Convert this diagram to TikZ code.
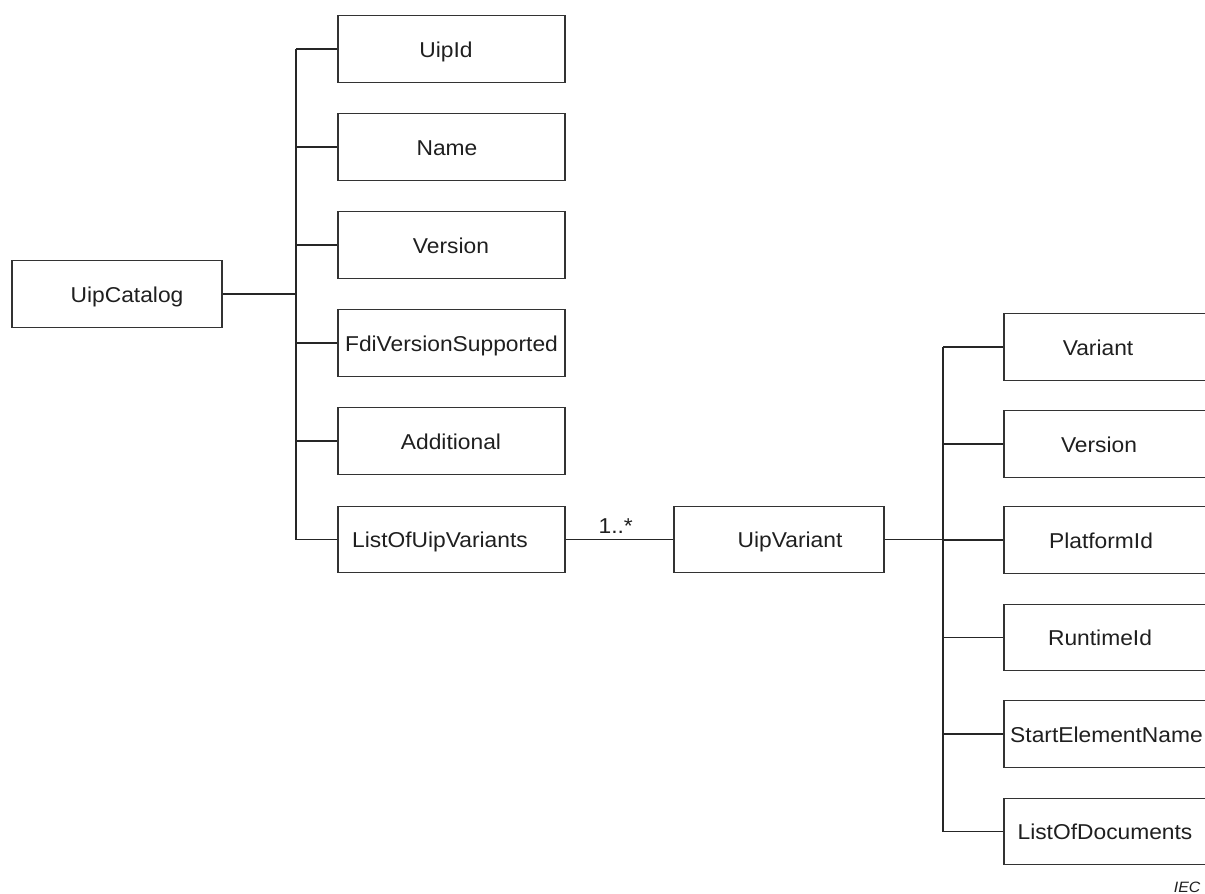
\documentclass[tikz,border=0pt]{standalone}
\usepackage{fontspec}
\setmainfont{Liberation Sans}[FakeStretch=1.06]
\begin{document}
\begin{tikzpicture}[x=1pt,y=-1pt,
  line width=1.3pt,
  color=black!85,
  box/.style={draw=black!80, rectangle, inner sep=0pt, minimum height=66.5pt},
  lbox/.style={box, minimum width=227pt},
  mbox/.style={box, minimum width=210pt},
  rbox/.style={box, minimum width=230pt},
  txt/.style={anchor=base, inner sep=0pt, text=black!88, font=\fontsize{21.5}{25}\selectfont},
  mult/.style={anchor=base west, inner sep=0pt, text=black!88, font=\fontsize{21.5}{25}\selectfont},
  tag/.style={anchor=base east, inner sep=0pt, text=black!88, font=\fontsize{15}{17}\selectfont\itshape}]
\useasboundingbox (0,0) rectangle (1205,894);

% root
\node[mbox] (cat) at (117,294) {};
\node[txt] (catT) at (127,302) {UipCatalog};

% attributes of the catalogue
\node[lbox] (uid) at (451.5,49) {};
\node[lbox] (nam) at (451.5,147) {};
\node[lbox] (ver) at (451.5,245) {};
\node[lbox] (fdi) at (451.5,343) {};
\node[lbox] (add) at (451.5,441) {};
\node[lbox] (lov) at (451.5,539.5) {};
\node[txt] (uidT) at (446,57) {UipId};
\node[txt] (namT) at (447,155) {Name};
\node[txt] (verT) at (451,253) {Version};
\node[txt] (fdiT) at (451.5,351) {FdiVersionSupported};
\node[txt] (addT) at (451,449) {Additional};
\node[txt] (lovT) at (440,547.5) {ListOfUipVariants};

% variant
\node[mbox] (var) at (779,539.5) {};
\node[txt] (varT) at (790,547.5) {UipVariant};
\node[mult] (m) at (598,533) {1..*};

% attributes of a variant (boxes run past the right edge)
\node[rbox] (vv) at (1119,347) {};
\node[rbox] (vr) at (1119,444) {};
\node[rbox] (pl) at (1119,540) {};
\node[rbox] (rt) at (1119,637.5) {};
\node[rbox] (se) at (1119,734) {};
\node[rbox] (ld) at (1119,831.5) {};
\node[txt] (vvT) at (1098,355) {Variant};
\node[txt] (vrT) at (1099,452) {Version};
\node[txt] (plT) at (1101,548) {PlatformId};
\node[txt] (rtT) at (1100,645.5) {RuntimeId};
\node[txt] (seT) at (1106.5,742) {StartElementName};
\node[txt] (ldT) at (1105,839.5) {ListOfDocuments};

\node[tag] (iec) at (1201,892) {IEC};

% tree buses
\coordinate (lb) at (296,0);
\coordinate (rb) at (943,0);

\draw (cat.east) -- (cat.east -| lb);
\draw (uid.west -| lb) -- (lov.west -| lb);
\foreach \n in {uid,nam,ver,fdi,add,lov}
  \draw (\n.west -| lb) -- (\n.west);

\draw (lov.east) -- (var.west);

\draw (var.east) -- (var.east -| rb);
\draw (vv.west -| rb) -- (ld.west -| rb);
\foreach \n in {vv,vr,pl,rt,se,ld}
  \draw (\n.west -| rb) -- (\n.west);
\end{tikzpicture}
\end{document}
